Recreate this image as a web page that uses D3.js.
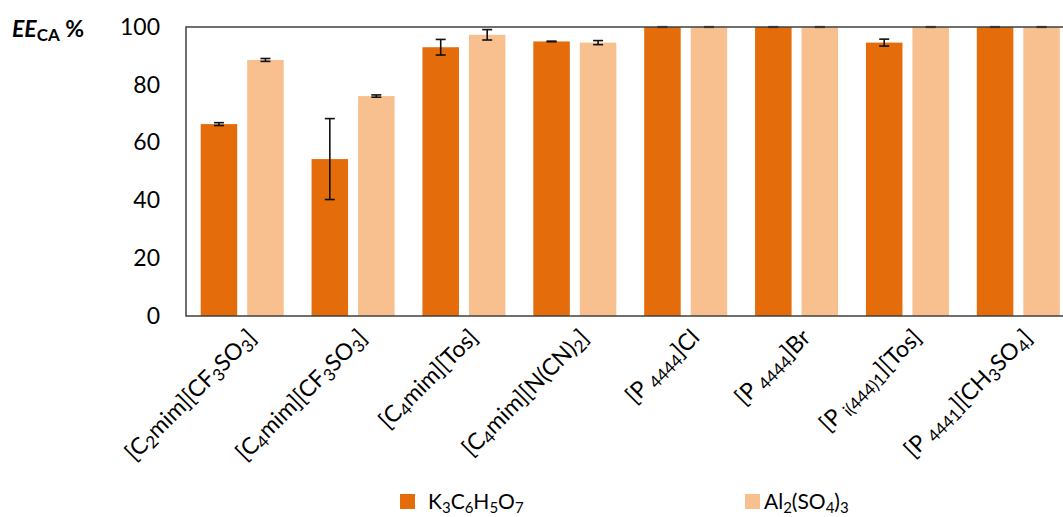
<!DOCTYPE html>
<html>
<head>
<meta charset="utf-8">
<script src="https://cdn.jsdelivr.net/npm/d3@7"></script>
<style>
  body { margin: 0; background: #fff; }
  svg { display: block; font-family: Lato, "Open Sans", sans-serif; }
</style>
</head>
<body>
<svg id="chart" width="1063" height="517"></svg>
<script>
// ---- data ----
// each category label is a list of [text, subscript?] parts
const categories = [
  [["[C"], ["2", 1], ["mim][CF"], ["3", 1], ["SO"], ["3", 1], ["]"]],
  [["[C"], ["4", 1], ["mim][CF"], ["3", 1], ["SO"], ["3", 1], ["]"]],
  [["[C"], ["4", 1], ["mim][Tos]"]],
  [["[C"], ["4", 1], ["mim][N(CN)"], ["2", 1], ["]"]],
  [["[P "], ["4444", 1], ["]Cl"]],
  [["[P "], ["4444", 1], ["]Br"]],
  [["[P "], ["i(444)1", 1], ["][Tos]"]],
  [["[P "], ["4441", 1], ["][CH"], ["3", 1], ["SO"], ["4", 1], ["]"]]
];
const citrateValues = [66.4, 54.3, 93.0, 95.0, 100, 100, 94.6, 100];
const citrateErrors = [0.5, 14.0, 2.7, 0.1, 0.1, 0.1, 1.2, 0.1];
const sulfateValues = [88.6, 76.1, 97.3, 94.6, 100, 100, 100, 100];
const sulfateErrors = [0.5, 0.4, 1.8, 0.7, 0.1, 0.1, 0.1, 0.1];
const yTicks = [0, 20, 40, 60, 80, 100];
const seriesNames = [
  [["K"], ["3", 1], ["C"], ["6", 1], ["H"], ["5", 1], ["O"], ["7", 1]],
  [["Al"], ["2", 1], ["(SO"], ["4", 1], [")"], ["3", 1]]
];
const colors = ["#e46c0a", "#f9c08f"];

// ---- layout ----
const plotLeft = 186, plotTop = 27, plotRight = 1073, plotBottom = 316;
const svg = d3.select("#chart");

const x = d3.scaleBand()
  .domain(d3.range(categories.length))
  .range([plotLeft, plotRight]);
const xSeries = d3.scaleBand()
  .domain([0, 1])
  .range([14.7, 14.7 + 83])
  .paddingInner(0.215);
const y = d3.scaleLinear().domain([0, 100]).range([plotBottom, plotTop]);

// helper: write text parts with subscripts into a text element
function writeParts(textSel, parts, subSize) {
  parts.forEach(p => {
    const t = textSel.append("tspan").text(p[0]);
    if (p[1]) t.attr("baseline-shift", "-25%").attr("font-size", subSize);
  });
}

const series = [
  { values: citrateValues, errors: citrateErrors },
  { values: sulfateValues, errors: sulfateErrors }
];

// bars
series.forEach((s, si) => {
  svg.append("g")
    .attr("fill", colors[si])
    .selectAll("rect")
    .data(s.values)
    .join("rect")
    .attr("x", (v, i) => x(i) + xSeries(si))
    .attr("y", v => y(v))
    .attr("width", xSeries.bandwidth())
    .attr("height", v => y(0) - y(v));
});

// error bars
series.forEach((s, si) => {
  const g = svg.append("g").attr("stroke", "#111").attr("stroke-width", 1.6);
  s.values.forEach((v, i) => {
    const cx = x(i) + xSeries(si) + xSeries.bandwidth() / 2;
    const e = s.errors[i];
    const y1 = y(v + e), y2 = y(v - e);
    g.append("line").attr("x1", cx).attr("x2", cx).attr("y1", y1).attr("y2", y2);
    [y1, y2].forEach(yy => {
      g.append("line").attr("x1", cx - 5).attr("x2", cx + 5).attr("y1", yy).attr("y2", yy);
    });
  });
});

// frame (left, top, bottom)
svg.append("path")
  .attr("d", `M${plotRight},${plotTop}H${plotLeft}V${plotBottom}H${plotRight}`)
  .attr("fill", "none")
  .attr("stroke", "#404040")
  .attr("stroke-width", 1.5);

// y tick labels
const yAxis = d3.axisLeft(y).tickValues(yTicks).tickSize(0).tickPadding(26);
const ya = svg.append("g").attr("transform", `translate(${plotLeft},0)`).call(yAxis);
ya.select(".domain").remove();
ya.selectAll("text")
  .attr("font-family", "Lato, 'Open Sans', sans-serif")
  .attr("font-size", 23)
  .attr("fill", "#000");

// y axis title
const yt = svg.append("text")
  .attr("x", 12)
  .attr("y", 37)
  .attr("font-size", 23)
  .attr("font-weight", "bold");
yt.append("tspan").attr("font-style", "italic").text("EE");
yt.append("tspan").attr("baseline-shift", "-25%").attr("font-size", 17).text("CA");
yt.append("tspan").text(" %");

// x labels, rotated
categories.forEach((parts, i) => {
  const cx = x(i) + x.bandwidth() / 2;
  const t = svg.append("text")
    .attr("transform", `translate(${cx + 16},${339}) rotate(-45)`)
    .attr("text-anchor", "end")
    .attr("font-size", 23)
    .attr("fill", "#000");
  writeParts(t, parts, 17);
});

// legend
const legendX = [400, 745];
seriesNames.forEach((parts, i) => {
  svg.append("rect")
    .attr("x", legendX[i])
    .attr("y", 494)
    .attr("width", 15)
    .attr("height", 15)
    .attr("fill", colors[i]);
  const t = svg.append("text")
    .attr("x", legendX[i] + (i === 0 ? 28 : 19))
    .attr("y", 509)
    .attr("font-size", 21)
    .attr("fill", "#000");
  writeParts(t, parts, 15);
});
</script>
</body>
</html>
